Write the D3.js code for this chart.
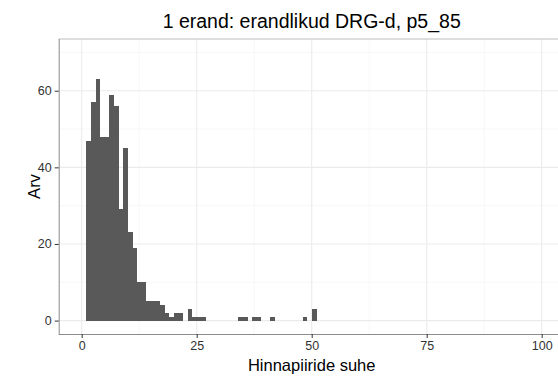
<!DOCTYPE html>
<html><head><meta charset="utf-8">
<script src="https://cdn.jsdelivr.net/npm/d3@7"></script>
<style>
html,body{margin:0;padding:0;background:#fff;}
svg{display:block;font-family:"Liberation Sans",Arial,sans-serif;}
</style></head>
<body>
<svg id="chart" width="558" height="377"></svg>
<script>
// Histogram bins (binwidth 1): left edge of each bin and its count
const binStarts = [1,2,3,4,5,6,7,8,9,10,11,12,13,14,15,16,17,18,19,20,21,23,24,25,26,34,35,37,38,41,48,50];
const counts    = [47,57,63,48,48,59,56,29,45,23,19,10,10,5,5,5,4,2,1,2,2,3,1,1,1,1,1,1,1,1,1,3];
const binWidth = 1;
const xTicks = [0,25,50,75,100];
const xMinor = [12.5,37.5,62.5,87.5];
const yTicks = [0,20,40,60];
const yMinor = [10,30,50,70];
const title = "1 erand: erandlikud DRG-d, p5_85";
const xTitle = "Hinnapiiride suhe";
const yTitle = "Arv";

(function(){
const svg = d3.select("#chart");
const pL = 58.7, pR = 564.7, pT = 39, pB = 334;
const x = d3.scaleLinear().domain([-5,105]).range([pL,pR]);
const y = d3.scaleLinear().domain([-3.5,73.5]).range([pB,pT]);

const bins = binStarts.map((s,i)=>({x0:s,x1:s+binWidth,n:counts[i]}));

// grid
const grid = svg.append("g");
grid.selectAll(".vmin").data(xMinor).enter().append("line")
  .attr("x1",d=>x(d)).attr("x2",d=>x(d)).attr("y1",pT).attr("y2",pB)
  .attr("stroke","#F2F2F2").attr("stroke-width",0.6);
grid.selectAll(".hmin").data(yMinor).enter().append("line")
  .attr("y1",d=>y(d)).attr("y2",d=>y(d)).attr("x1",pL).attr("x2",pR)
  .attr("stroke","#F2F2F2").attr("stroke-width",0.6);
grid.selectAll(".vmaj").data(xTicks).enter().append("line")
  .attr("x1",d=>x(d)).attr("x2",d=>x(d)).attr("y1",pT).attr("y2",pB)
  .attr("stroke","#EBEBEB").attr("stroke-width",1.1);
grid.selectAll(".hmaj").data(yTicks).enter().append("line")
  .attr("y1",d=>y(d)).attr("y2",d=>y(d)).attr("x1",pL).attr("x2",pR)
  .attr("stroke","#EBEBEB").attr("stroke-width",1.1);

// bars
svg.append("g").selectAll("rect").data(bins).enter().append("rect")
  .attr("x",d=>x(d.x0)).attr("width",d=>x(d.x1)-x(d.x0)+0.3)
  .attr("y",d=>y(d.n)).attr("height",d=>y(0)-y(d.n))
  .attr("fill","#595959").attr("shape-rendering","crispEdges");

// panel border top
svg.append("line").attr("x1",pL).attr("x2",pR).attr("y1",pT).attr("y2",pT)
  .attr("stroke","#BDBDBD").attr("stroke-width",1);

// axes
const xAxis = svg.append("g").attr("transform",`translate(0,${pB})`)
  .call(d3.axisBottom(x).tickValues(xTicks).tickSize(4).tickPadding(3).tickFormat(d3.format("d")));
const yAxis = svg.append("g").attr("transform",`translate(${pL},0)`)
  .call(d3.axisLeft(y).tickValues(yTicks).tickSize(4).tickPadding(3).tickFormat(d3.format("d")));
xAxis.select(".domain").attr("d",`M${pL},0.5H${pR}`).attr("stroke","#8C8C8C");
yAxis.select(".domain").attr("d",`M0.5,${pT}V${pB}`).attr("stroke","#8C8C8C");
[xAxis,yAxis].forEach(a=>{
  a.selectAll(".tick line").attr("stroke","#333");
  a.selectAll(".tick text").attr("fill","#333").style("font-size","12.5px")
   .style("font-family","'Liberation Sans',Arial,sans-serif");
});

// titles
svg.append("text").attr("x",(pL+pR)/2).attr("y",28).attr("text-anchor","middle")
  .style("font-size","19.5px").attr("fill","#000").text(title);
svg.append("text").attr("x",(pL+pR)/2).attr("y",371).attr("text-anchor","middle")
  .style("font-size","16.5px").attr("fill","#000").text(xTitle);
svg.append("text").attr("transform",`translate(40,${(pT+pB)/2}) rotate(-90)`)
  .attr("text-anchor","middle").style("font-size","16.5px").attr("fill","#000").text(yTitle);
})();
</script>
</body></html>
